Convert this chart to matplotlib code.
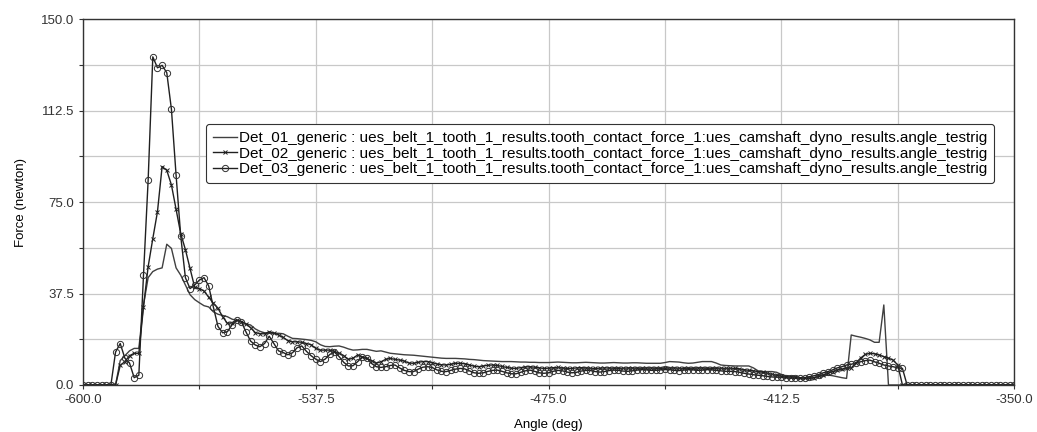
import numpy as np
import matplotlib
matplotlib.use("Agg")
import matplotlib.pyplot as plt
from matplotlib.ticker import FixedLocator, FormatStrFormatter

plt.rcParams['font.family'] = ['Liberation Sans', 'DejaVu Sans']

# angle samples (deg)
angle = np.linspace(-600, -350, 201)

det_01 = [0, 0, 0, 0, 0, 0, 0, 0,
          10, 12, 14, 15, 15,
          32.8, 44, 46.5, 47.5, 48, 57.7, 56, 48,
          45, 41, 37, 35, 33.7, 32.5, 32, 30, 29, 28.5,
          28, 27, 26.5, 26, 25, 24.6, 23, 22, 21.4, 21.2,
          21.2, 21.2, 21, 20, 19.1, 19, 18.8, 18.6, 18.3, 17.7,
          16.5, 15.8, 15.7, 15.9, 16, 15.5, 14.8, 14.3, 14.4, 14.6,
          14.6, 14.2, 13.8, 14, 13.5, 13, 12.8, 12.6, 12.4, 12.3,
          12.2, 12, 11.8, 11.6, 11.4, 11.2, 11, 10.9, 10.9, 10.9,
          10.8, 10.7, 10.5, 10.4, 10.2, 10, 9.9, 9.8, 9.7, 9.6,
          9.6, 9.6, 9.5, 9.4, 9.4, 9.3, 9.3, 9.2, 9.2, 9.2,
          9.3, 9.4, 9.3, 9.2, 9.1, 9.1, 9.2, 9.3, 9.2, 9.1,
          9.0, 9.0, 9.1, 9.2, 9.1, 9.0, 9.0, 9.1, 9.1, 9.0,
          8.9, 8.9, 8.9, 8.9, 9.2, 9.6, 9.5, 9.4, 9.1, 8.9,
          9.0, 9.3, 9.6, 9.6, 9.6, 9.0, 8.2, 8.0, 7.9, 7.8,
          7.8, 7.8, 7.8, 7.0, 5.8, 5.5, 5.5, 5.5, 5.2, 4.3,
          3.8, 3.6, 3.4, 3.0, 2.8, 2.8, 3.0, 3.5, 4.0, 4.1,
          3.8, 3.4, 3.0, 2.7, 20.5, 20.0, 19.6, 19.1, 18.5, 17.5,
          17.5, 32.8, 0] + [0] * 27

det_02 = [0, 0, 0, 0, 0, 0, 0, 0,
          8, 9.6, 12, 13, 13,
          32, 48.5, 60, 71, 89.5, 88, 82, 72,
          62, 55.5, 47.8, 40, 39.5, 38.5, 36, 33.5, 31.4, 28,
          25.3, 25.5, 26.6, 26, 25, 23.5, 21.5, 21, 21, 21.8,
          21.3, 20.5, 19.5, 18.2, 17.7, 17.7, 17.5, 17, 16.5, 15,
          14.3, 14.3, 14.3, 13.8, 13, 12, 10.5, 11, 12.3, 11.5,
          10.9, 10, 9, 9.5, 10.5, 10.9, 10.5, 10.2, 9.8, 9,
          8.9, 9.3, 9.6, 9.6, 9.2, 8.6, 8.3, 8.2, 8.5, 8.9,
          8.9, 8.7, 8.2, 7.7, 7.5, 7.8, 8.1, 8.2, 8.0, 7.6,
          7.2, 6.9, 6.8, 7.1, 7.4, 7.5, 7.3, 7.0, 6.8, 6.9,
          7.1, 7.2, 7.0, 6.8, 6.8, 7.0, 7.1, 7.0, 6.8, 6.8,
          6.9, 7.0, 7.0, 6.9, 6.8, 6.9, 7.0, 7.0, 6.9, 6.9,
          7.0, 7.0, 6.9, 6.8, 6.9, 7.0, 7.0, 6.9, 6.8, 6.8,
          6.9, 7.0, 7.0, 6.9, 6.8, 6.9, 6.9, 6.8, 6.8, 6.8,
          6.6, 6.3, 6.0, 5.8, 5.5, 5.2, 4.8, 4.4, 4.0, 3.6,
          3.4, 3.3, 3.1, 2.9, 2.8, 2.7, 3.0, 3.6, 4.1, 4.8,
          5.5, 6.2, 6.5, 6.8, 7.0, 9.0, 11.0, 12.5, 13.0, 12.8,
          12.3, 11.6, 11.0, 10.2, 8.2] + [0] * 25

det_03 = [0, 0, 0, 0, 0, 0, 0,
          13.5, 17, 11, 9,
          3, 4, 45, 84, 134.5, 130, 131, 128, 113, 86,
          61, 44, 39.5, 41, 43, 44, 40.6, 32, 24, 21.4,
          21.8, 24.6, 26.6, 26, 21.8, 18, 16.4, 15.7, 17, 20,
          17, 14, 13.3, 12.4, 13.2, 15.3, 16, 13.8, 12, 10.6,
          9.6, 10.6, 12.5, 13.5, 11.7, 9.3, 7.8, 7.9, 9.6, 11.5,
          11, 8.8, 7.5, 7.2, 7.5, 8.0, 8.2, 7, 6, 5.5,
          5.5, 6.5, 7.3, 7.5, 7.2, 6.2, 5.6, 5.5, 6.0, 6.5,
          6.8, 6.6, 5.8, 5.0, 4.8, 5.0, 5.6, 6.0, 6.1, 5.6,
          5.0, 4.6, 4.6, 5.2, 5.8, 6.1, 5.6, 5.0, 4.8, 5.0,
          5.6, 6.0, 5.8, 5.3, 5.0, 5.2, 5.7, 6.0, 5.9, 5.5,
          5.3, 5.5, 5.9, 6.1, 6.0, 5.7, 5.6, 5.8, 6.1, 6.3,
          6.2, 6.0, 6.0, 6.2, 6.4, 6.3, 6.0, 5.9, 6.1, 6.3,
          6.2, 6.0, 6.1, 6.3, 6.2, 6.0, 5.8, 5.6, 5.6, 5.5,
          5.2, 4.8, 4.5, 4.2, 4.0, 3.8, 3.5, 3.3, 3.2, 3.2,
          3.0, 2.8, 2.7, 2.8, 3.0, 3.4, 3.8, 4.3, 5.0, 5.5,
          6.2, 7.0, 7.5, 8.2, 8.5, 9.0, 9.5, 10.0, 10.2, 9.5,
          8.9, 8.2, 7.8, 7.5, 7.0, 6.8] + [0] * 24

x_ticks = [-600.0, -537.5, -475.0, -412.5, -350.0]
y_ticks = [0.0, 37.5, 75.0, 112.5, 150.0]

suffix = " : ues_belt_1_tooth_1_results.tooth_contact_force_1:ues_camshaft_dyno_results.angle_testrig"
labels = ["Det_01_generic" + suffix, "Det_02_generic" + suffix, "Det_03_generic" + suffix]

fig = plt.figure(figsize=(10.37, 4.32), dpi=100)
ax = fig.add_axes([0.080, 0.1088, 0.898, 0.8472])

ax.plot(angle, det_01, color='#404040', lw=1.0, label=labels[0])
ax.plot(angle, det_02, color='#202020', lw=1.0, marker='x', ms=3, mew=0.7, label=labels[1])
ax.plot(angle, det_03, color='#202020', lw=1.0, marker='o', ms=4.5, mew=0.7,
        mfc='none', mec='#303030', label=labels[2])

ax.set_xlim(-600, -350)
ax.set_ylim(0, 150)
ax.xaxis.set_major_locator(FixedLocator(x_ticks))
ax.xaxis.set_minor_locator(FixedLocator([-568.75, -506.25, -443.75, -381.25]))
ax.yaxis.set_major_locator(FixedLocator(y_ticks))
ax.yaxis.set_minor_locator(FixedLocator([18.75, 56.25, 93.75, 131.25]))
ax.xaxis.set_major_formatter(FormatStrFormatter('%.1f'))
ax.yaxis.set_major_formatter(FormatStrFormatter('%.1f'))
ax.grid(True, which='both', color='#c8c8c8', lw=0.9)
ax.set_axisbelow(True)
ax.tick_params(which='both', direction='out', length=3, width=0.8, labelsize=9.5,
               colors='#333333')
for s in ax.spines.values():
    s.set_color('#333333')
    s.set_linewidth(1.0)

ax.set_xlabel('Angle (deg)', fontsize=9.5, labelpad=9)
ax.set_ylabel('Force (newton)', fontsize=9.5, labelpad=10)

leg = ax.legend(loc='upper left', bbox_to_anchor=(0.132, 0.712), fontsize=11,
                handlelength=1.6, handletextpad=0.1, borderpad=0.45, labelspacing=0.1,
                framealpha=1, edgecolor='#333333', fancybox=True, borderaxespad=0)
leg.get_frame().set_linewidth(0.8)

fig.savefig('out.png', dpi=100)
